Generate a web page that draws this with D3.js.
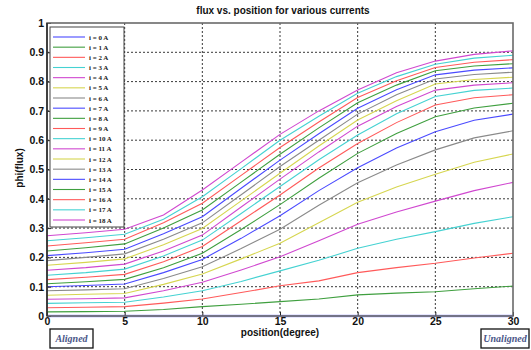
<!DOCTYPE html>
<html>
<head>
<meta charset="utf-8">
<script src="https://cdn.jsdelivr.net/npm/d3@7"></script>
<style>
  html, body { margin: 0; padding: 0; background: #fff; }
  svg { display: block; }
</style>
</head>
<body>
<svg id="chart" width="531" height="350"></svg>
<script>
// Rotor position samples (degrees)
const positions = [0, 2.5, 5, 7.5, 10, 12.5, 15, 17.5, 20, 22.5, 25, 27.5, 30];

// Phase current for each curve (A)
const currents = [0, 1, 2, 3, 4, 5, 6, 7, 8, 9, 10, 11, 12, 13, 14, 15, 16, 17, 18];

// Flux linkage for each current, one value per position
const flux0  = [0, 0, 0, 0, 0, 0, 0, 0, 0, 0, 0, 0, 0];
const flux1  = [.014, .015, .016, .022, .032, .040, .049, .058, .072, .078, .083, .093, .102];
const flux2  = [.028, .030, .032, .044, .058, .080, .103, .120, .148, .165, .180, .198, .214];
const flux3  = [.043, .045, .047, .065, .086, .118, .154, .190, .231, .262, .288, .316, .339];
const flux4  = [.057, .059, .062, .086, .115, .157, .202, .257, .313, .355, .392, .428, .456];
const flux5  = [.071, .074, .077, .108, .143, .195, .248, .318, .388, .440, .484, .525, .553];
const flux6  = [.086, .089, .093, .128, .168, .230, .296, .378, .455, .515, .567, .608, .632];
const flux7  = [.100, .104, .109, .148, .193, .265, .342, .428, .506, .573, .629, .668, .689];
const flux8  = [.110, .117, .125, .165, .214, .295, .380, .470, .555, .623, .680, .710, .726];
const flux9  = [.124, .132, .142, .185, .237, .325, .413, .505, .589, .660, .720, .745, .755];
const flux10 = [.139, .148, .160, .205, .259, .350, .442, .533, .618, .690, .749, .770, .778];
const flux11 = [.156, .165, .177, .222, .276, .372, .467, .560, .648, .715, .771, .788, .796];
const flux12 = [.173, .183, .195, .243, .299, .393, .487, .580, .669, .735, .792, .807, .815];
const flux13 = [.189, .200, .212, .262, .318, .414, .510, .600, .689, .755, .809, .824, .832];
const flux14 = [.206, .216, .228, .281, .339, .436, .532, .622, .709, .772, .823, .839, .847];
const flux15 = [.222, .233, .246, .300, .362, .457, .552, .642, .728, .788, .837, .853, .861];
const flux16 = [.239, .250, .262, .318, .385, .480, .575, .662, .746, .803, .848, .866, .875];
const flux17 = [.257, .267, .279, .330, .407, .503, .600, .682, .760, .817, .859, .880, .890];
const flux18 = [.274, .284, .296, .345, .430, .525, .620, .700, .771, .830, .870, .893, .905];

const fluxSeries = [flux0, flux1, flux2, flux3, flux4, flux5, flux6, flux7, flux8, flux9,
  flux10, flux11, flux12, flux13, flux14, flux15, flux16, flux17, flux18];

// Axis ticks
const xTicks = [0, 5, 10, 15, 20, 25, 30];
const yTicks = [0, 0.1, 0.2, 0.3, 0.4, 0.5, 0.6, 0.7, 0.8, 0.9, 1];

// Colour cycle b, g, r, c, m, y, k (softened)
const palette = ["#4a4aff", "#3f9f3f", "#ff5a5a", "#45d2d2", "#d048d0", "#d6d650", "#8a8a8a"];

const svg = d3.select("#chart");
const plot = { left: 47, right: 513, top: 23, bottom: 316 };

const x = d3.scaleLinear().domain([0, 30]).range([plot.left, plot.right]);
const y = d3.scaleLinear().domain([0, 1]).range([plot.bottom, plot.top]);

// Dotted grid
const grid = svg.append("g");
grid.selectAll("line.gx").data(xTicks.slice(1, -1)).join("line")
  .attr("x1", d => x(d)).attr("x2", d => x(d))
  .attr("y1", plot.top).attr("y2", plot.bottom)
  .attr("stroke", "#222").attr("stroke-width", 0.9).attr("stroke-dasharray", "2,2");
grid.selectAll("line.gy").data(yTicks.slice(1, -1)).join("line")
  .attr("x1", plot.left).attr("x2", plot.right)
  .attr("y1", d => y(d)).attr("y2", d => y(d))
  .attr("stroke", "#222").attr("stroke-width", 0.9).attr("stroke-dasharray", "2,2");

// Curves
const line = d3.line().x((d, k) => x(positions[k])).y(d => y(d));
svg.append("g").selectAll("path").data(fluxSeries).join("path")
  .attr("d", d => line(d))
  .attr("fill", "none")
  .attr("stroke", (d, i) => i === 0 ? "#9a9aff" : palette[i % palette.length])
  .attr("stroke-width", (d, i) => i === 0 ? 2.5 : 1.1);

// Axes with inward ticks
const xAxis = d3.axisBottom(x).tickValues(xTicks).tickFormat(d3.format("d"))
  .tickSizeInner(-4).tickSizeOuter(0).tickPadding(2);
const yAxis = d3.axisLeft(y).tickValues(yTicks).tickFormat(d => d === 0 || d === 1 ? d : d3.format(".1f")(d))
  .tickSizeInner(-4).tickSizeOuter(0).tickPadding(3);

const gx = svg.append("g").attr("transform", `translate(0,${plot.bottom})`).call(xAxis);
const gy = svg.append("g").attr("transform", `translate(${plot.left},0)`).call(yAxis);
[gx, gy].forEach(g => {
  g.select(".domain").remove();
  g.selectAll(".tick line").attr("stroke", "#222");
  g.selectAll(".tick text")
    .attr("font-family", "Arial, 'Liberation Sans', sans-serif")
    .attr("font-weight", "bold").attr("font-size", 10.5).attr("fill", "#111");
});

// Plot frame
svg.append("rect")
  .attr("x", plot.left).attr("y", plot.top)
  .attr("width", plot.right - plot.left).attr("height", plot.bottom - plot.top)
  .attr("fill", "none").attr("stroke", "#6a6a6a").attr("stroke-width", 1.6);
svg.append("line").attr("x1", plot.left).attr("x2", plot.left)
  .attr("y1", plot.top).attr("y2", plot.bottom).attr("stroke", "#222").attr("stroke-width", 1.4);

// Title and axis labels
svg.append("text").attr("x", 283).attr("y", 14).attr("text-anchor", "middle")
  .attr("font-family", "Arial, 'Liberation Sans', sans-serif").attr("font-weight", "bold")
  .attr("font-size", 10).attr("fill", "#111").text("flux vs. position for various currents");
svg.append("text").attr("x", 280).attr("y", 336).attr("text-anchor", "middle")
  .attr("font-family", "Arial, 'Liberation Sans', sans-serif").attr("font-weight", "bold")
  .attr("font-size", 10).attr("fill", "#111").text("position(degree)");
svg.append("text").attr("transform", "translate(23,168) rotate(-90)").attr("text-anchor", "middle")
  .attr("font-family", "Arial, 'Liberation Sans', sans-serif").attr("font-weight", "bold")
  .attr("font-size", 10).attr("fill", "#111").text("phi(flux)");

// Legend
const legend = svg.append("g");
legend.append("rect").attr("x", 50).attr("y", 27).attr("width", 74).attr("height", 200)
  .attr("fill", "#fff").attr("stroke", "#444").attr("stroke-width", 1);
const ly = d3.scaleLinear().domain([0, 18]).range([37, 220]);
const items = legend.selectAll("g.item").data(currents).join("g")
  .attr("transform", d => `translate(0,${ly(d)})`);
items.append("line").attr("x1", 53).attr("x2", 85).attr("y1", 0).attr("y2", 0)
  .attr("stroke", (d, i) => palette[i % palette.length]).attr("stroke-width", 1.1);
items.append("text").attr("x", 89).attr("y", 2.5)
  .attr("font-family", "'Liberation Serif', 'Times New Roman', serif").attr("font-weight", "bold")
  .attr("font-size", 7).attr("fill", "#222").text(d => `i = ${d} A`);

// Position markers below the axis
const markers = [
  { label: "Aligned", x: 50, w: 43 },
  { label: "Unaligned", x: 481, w: 48 }
];
const mk = svg.append("g").selectAll("g").data(markers).join("g");
mk.append("rect").attr("x", d => d.x).attr("y", 329).attr("width", d => d.w).attr("height", 19)
  .attr("fill", "#fff").attr("stroke", "#111").attr("stroke-width", 1.3);
mk.append("text").attr("x", d => d.x + d.w / 2).attr("y", 342).attr("text-anchor", "middle")
  .attr("font-family", "'Liberation Serif', 'Times New Roman', serif").attr("font-weight", "bold")
  .attr("font-style", "italic").attr("font-size", 10).attr("fill", "#4a5688").text(d => d.label);
</script>
</body>
</html>
